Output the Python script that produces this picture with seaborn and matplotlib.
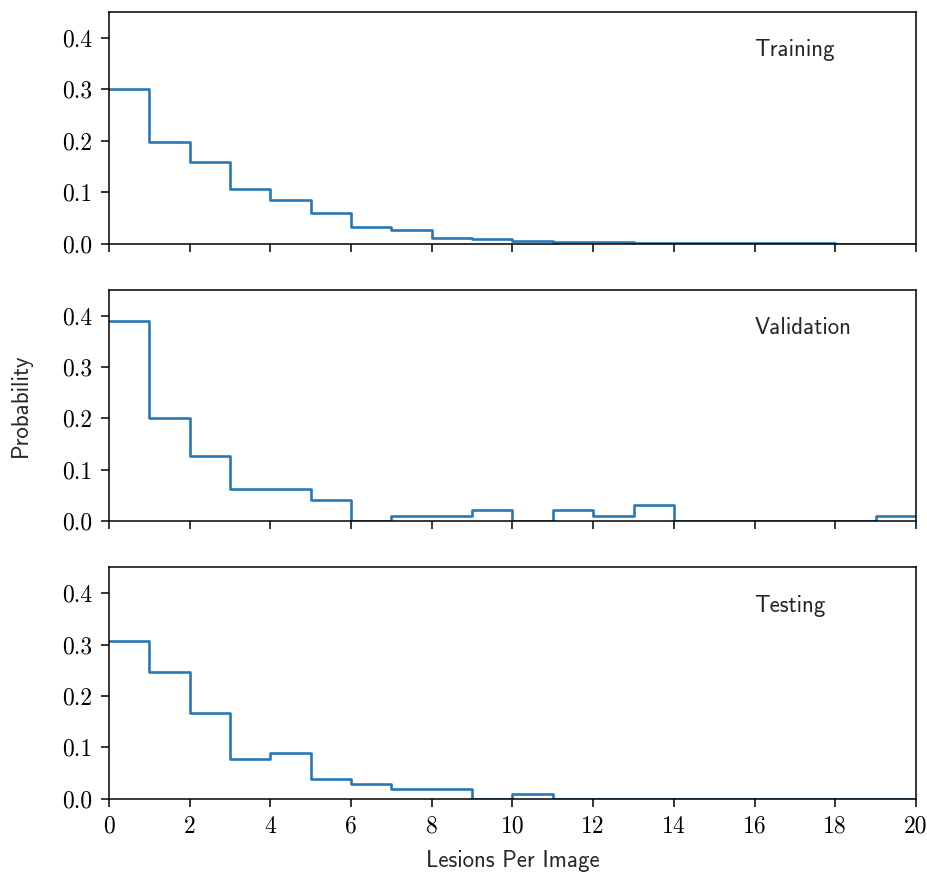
import numpy as np
import pandas as pd
import matplotlib
matplotlib.use("Agg")
import matplotlib.pyplot as plt
import seaborn as sns

# probabilities per lesion count (bins 0..19)
lesions = list(range(20))
train_prob = [0.301, 0.198, 0.158, 0.106, 0.084, 0.059, 0.032, 0.0265, 0.011, 0.009,
              0.005, 0.0035, 0.003, 0.002, 0.001, 0.001, 0.001, 0.001, 0.0, 0.0]
val_prob = [0.389, 0.200, 0.126, 0.063, 0.063, 0.042, 0.0, 0.0105, 0.0105, 0.021,
            0.0, 0.021, 0.0105, 0.032, 0.0, 0.0, 0.0, 0.0, 0.0, 0.0105]
test_prob = [0.306, 0.246, 0.167, 0.078, 0.089, 0.039, 0.029, 0.019, 0.019, 0.0,
             0.0098, 0.0, 0.0, 0.0, 0.0, 0.0, 0.0, 0.0, 0.0, 0.0]
splits = ["Training", "Validation", "Testing"]
xticks = list(range(0, 21, 2))
yticks = [0.0, 0.1, 0.2, 0.3, 0.4]

sns.set_style("ticks")
plt.rcParams["axes.linewidth"] = 1.1
plt.rcParams["xtick.major.width"] = 1.1
plt.rcParams["ytick.major.width"] = 1.1
plt.rcParams["xtick.major.size"] = 6
plt.rcParams["ytick.major.size"] = 6
plt.rcParams["xtick.major.pad"] = 6
plt.rcParams["ytick.major.pad"] = 6

fig, axes = plt.subplots(3, 1, figsize=(9.28, 8.72), dpi=100, sharex=True)
fig.subplots_adjust(left=0.1175, right=0.987, top=0.986, bottom=0.084, hspace=0.2)

for ax, name, probs in zip(axes, splits, [train_prob, val_prob, test_prob]):
    df = pd.DataFrame({"lesions": lesions, "prob": probs})
    sns.histplot(data=df, x="lesions", weights="prob", binwidth=1, binrange=(0, 20),
                 element="step", fill=False, stat="count", color="#2878b5",
                 linewidth=1.9, ax=ax)
    ax.set_xlim(0, 20)
    ax.set_ylim(0, 0.45)
    ax.set_xticks(xticks)
    ax.set_yticks(yticks)
    ax.set_yticklabels([f"{t:.1f}" for t in yticks], fontfamily="cmr10", fontsize=17)
    ax.set_ylabel("")
    ax.set_xlabel("")
    ax.text(0.80, 0.835, name, transform=ax.transAxes, ha="left", va="center",
            fontfamily="cmss10", fontsize=16.5)
    for s in ax.spines.values():
        s.set_color("black")
    ax.tick_params(colors="black")

axes[2].set_xticklabels([str(t) for t in xticks], fontfamily="cmr10", fontsize=17)
axes[2].set_xlabel("Lesions Per Image", fontfamily="cmss10", fontsize=16.5, labelpad=9)
axes[1].set_ylabel("Probability", fontfamily="cmss10", fontsize=16.5, labelpad=22)

fig.savefig("out.png", dpi=100)
